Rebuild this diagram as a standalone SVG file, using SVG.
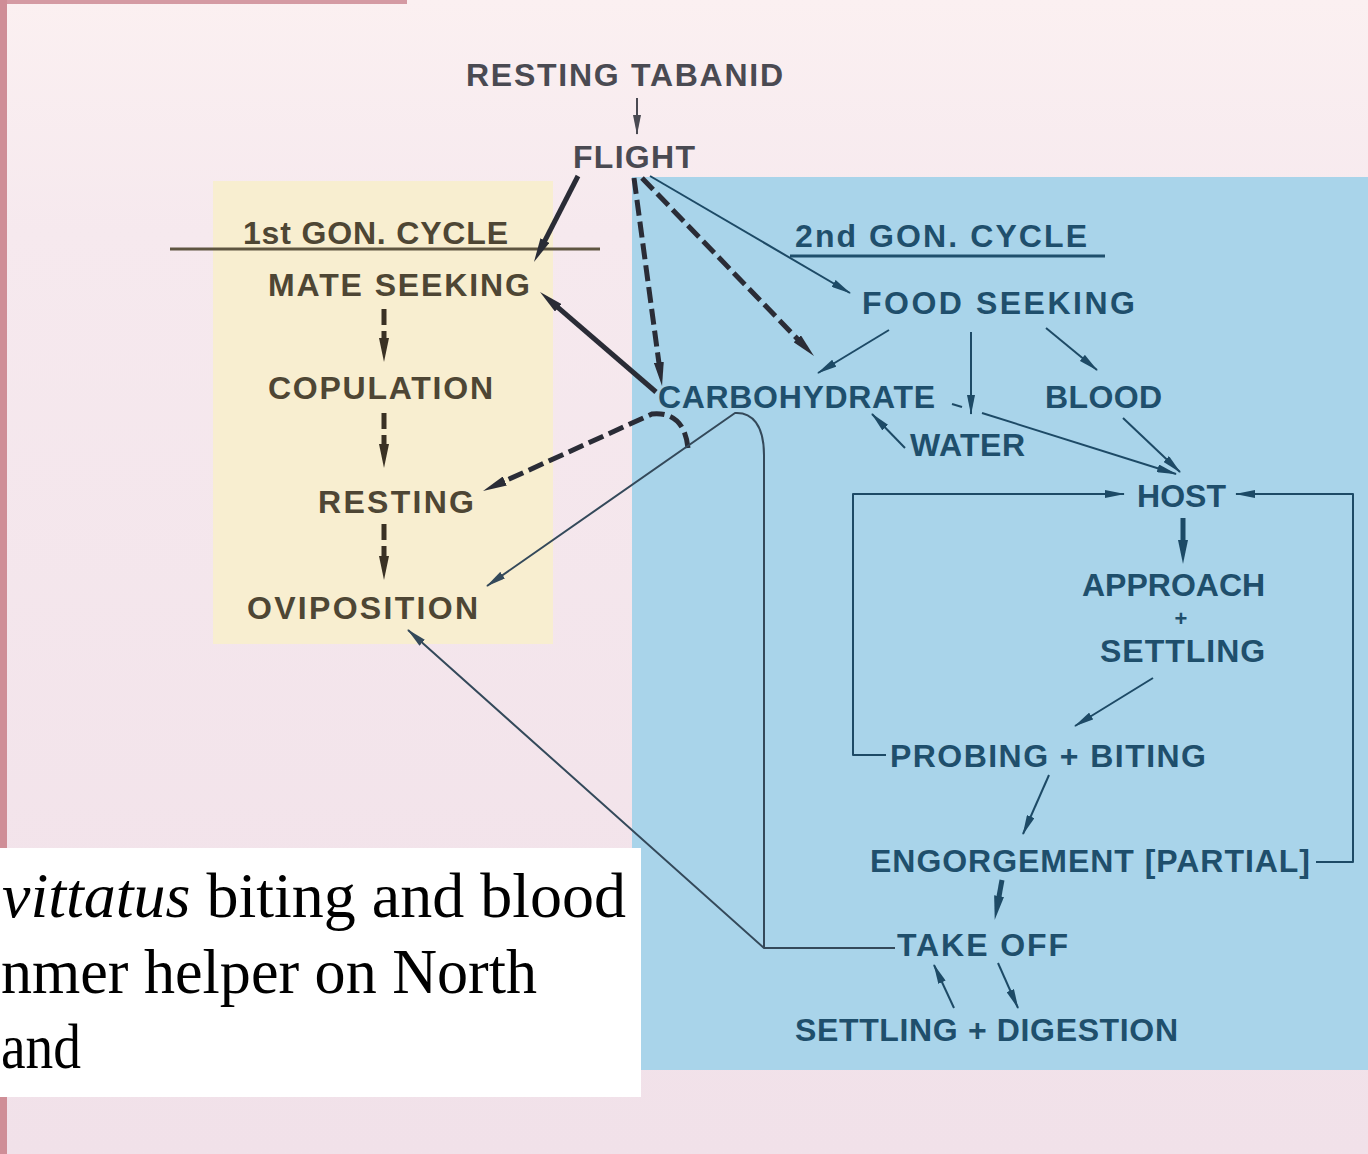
<svg xmlns="http://www.w3.org/2000/svg" width="1368" height="1154" viewBox="0 0 1368 1154">
<style>
.lb{font-family:"Liberation Sans",Arial,sans-serif;font-weight:bold;font-size:32px}
.br{fill:#4e4634}
.gr{fill:#4a4a52}
.bl{fill:#1f4f6c}
.cap{font-family:"Liberation Serif","Times New Roman",serif;font-size:64px;fill:#000}
.thin{fill:none;stroke-width:2;stroke-linejoin:round}
.heavy{fill:none;stroke-width:5}
.dash{stroke-dasharray:16 6}
.cb{stroke:#1d4a66}
.cd{stroke:#2a2c36}
.cbr{stroke:#3a3124}
.cm{stroke:#34495a}
</style>
<defs>
<linearGradient id="bgg" x1="0" y1="0" x2="0" y2="1">
<stop offset="0" stop-color="#fbf0f1"/>
<stop offset="0.2" stop-color="#f6e9ee"/>
<stop offset="1" stop-color="#f1e1e9"/>
</linearGradient>
<marker id="mb" viewBox="0 0 20 8" markerWidth="20" markerHeight="8" refX="19" refY="4" orient="auto" markerUnits="userSpaceOnUse"><path d="M0,0 L20,4 L0,8 Z" fill="#1d4a66"/></marker>
<marker id="mm" viewBox="0 0 20 8" markerWidth="20" markerHeight="8" refX="19" refY="4" orient="auto" markerUnits="userSpaceOnUse"><path d="M0,0 L20,4 L0,8 Z" fill="#34495a"/></marker>
<marker id="mg" viewBox="0 0 20 8" markerWidth="20" markerHeight="8" refX="19" refY="4" orient="auto" markerUnits="userSpaceOnUse"><path d="M0,0 L20,4 L0,8 Z" fill="#4a4a52"/></marker>
<marker id="hd" viewBox="0 0 24 10" markerWidth="24" markerHeight="10" refX="2" refY="5" orient="auto" markerUnits="userSpaceOnUse"><path d="M0,0 L24,5 L0,10 Z" fill="#2a2c36"/></marker>
<marker id="hbr" viewBox="0 0 24 10" markerWidth="24" markerHeight="10" refX="2" refY="5" orient="auto" markerUnits="userSpaceOnUse"><path d="M0,0 L24,5 L0,10 Z" fill="#3a3124"/></marker>
<marker id="hb" viewBox="0 0 24 10" markerWidth="24" markerHeight="10" refX="2" refY="5" orient="auto" markerUnits="userSpaceOnUse"><path d="M0,0 L24,5 L0,10 Z" fill="#1d4a66"/></marker>
</defs>

<g id="background">
<rect x="0" y="0" width="1368" height="1154" fill="url(#bgg)"/>
<rect x="0" y="0" width="407" height="4" fill="#d49aa3"/>
<rect x="0" y="0" width="7" height="1154" fill="#cf8e97"/>
<rect x="213" y="181" width="340" height="463" fill="#f8eed0"/>
<rect x="632" y="177" width="736" height="893" fill="#a9d4ea"/>
<rect x="0" y="848" width="641" height="249" fill="#ffffff"/>
</g>

<g id="caption">
<text class="cap" x="2" y="917"><tspan font-style="italic">vittatus</tspan> biting and blood</text>
<text class="cap" x="1" y="993" textLength="536" lengthAdjust="spacingAndGlyphs">nmer helper on North</text>
<text class="cap" x="1" y="1068" textLength="80" lengthAdjust="spacingAndGlyphs">and</text>
</g>

<g id="underlines">
<line x1="170" y1="249" x2="600" y2="249" stroke="#5e5540" stroke-width="3"/>
<line x1="790" y1="256" x2="1105" y2="256" stroke="#1f4f6c" stroke-width="3"/>
</g>

<g id="connectors">
<line class="thin" stroke="#4a4a52" x1="637" y1="98" x2="637" y2="134" marker-end="url(#mg)"/>
<line class="heavy cd" x1="578" y1="176" x2="544" y2="242.4" marker-end="url(#hd)"/>
<line class="heavy dash cd" x1="634" y1="178" x2="659.1" y2="364.2" marker-end="url(#hd)"/>
<line class="heavy dash cd" x1="642" y1="178" x2="798.7" y2="340.2" marker-end="url(#hd)"/>
<line class="heavy cd" x1="656" y1="392" x2="556.7" y2="306.4" marker-end="url(#hd)"/>
<path class="heavy dash cd" d="M688,448 Q684,411 652,414 L503,481.9" marker-end="url(#hd)"/>
<line class="thin cb" x1="650" y1="176" x2="850" y2="293" marker-end="url(#mb)"/>
<line class="thin cb" x1="889" y1="330" x2="818" y2="373" marker-end="url(#mb)"/>
<line class="thin cb" x1="971" y1="332" x2="971" y2="414" marker-end="url(#mb)"/>
<line class="thin cb" x1="952" y1="404" x2="962" y2="407"/>
<line class="thin cb" x1="982" y1="413" x2="1176" y2="474" marker-end="url(#mb)"/>
<line class="thin cb" x1="1046" y1="328" x2="1097" y2="370" marker-end="url(#mb)"/>
<line class="thin cb" x1="1123" y1="418" x2="1180" y2="472" marker-end="url(#mb)"/>
<line class="thin cb" x1="905" y1="448" x2="872" y2="414" marker-end="url(#mb)"/>
<line class="heavy cb" x1="1183" y1="518" x2="1183" y2="542" marker-end="url(#hb)"/>
<line class="thin cb" x1="1153" y1="678" x2="1075" y2="726" marker-end="url(#mb)"/>
<path class="thin cb" d="M886,755 L853,755 L853,494 L1124,494" marker-end="url(#mb)"/>
<path class="thin cb" d="M1316,862 L1353,862 L1353,494 L1236,494" marker-end="url(#mb)"/>
<line class="thin cb" x1="1049" y1="775" x2="1023" y2="834" marker-end="url(#mb)"/>
<line class="heavy cb" x1="1002" y1="880" x2="998.7" y2="898" marker-end="url(#hb)"/>
<line class="thin cb" x1="954" y1="1008" x2="934" y2="965" marker-end="url(#mb)"/>
<line class="thin cb" x1="998" y1="963" x2="1018" y2="1008" marker-end="url(#mb)"/>
<path class="thin cm" d="M895,948 L764,948 L408,630" marker-end="url(#mm)"/>
<path class="thin cm" d="M764,948 L764,455 C764,425 752,412 735,413 L487,586" marker-end="url(#mm)"/>
<line class="heavy dash cbr" x1="384" y1="309" x2="384" y2="340" marker-end="url(#hbr)"/>
<line class="heavy dash cbr" x1="384" y1="413" x2="384" y2="446" marker-end="url(#hbr)"/>
<line class="heavy dash cbr" x1="384" y1="524" x2="384" y2="558" marker-end="url(#hbr)"/>
</g>

<g id="node-resting-tabanid"><text class="lb gr" x="466" y="86" textLength="317" lengthAdjust="spacing">RESTING  TABANID</text></g>
<g id="node-flight"><text class="lb gr" x="573" y="168" textLength="122" lengthAdjust="spacing">FLIGHT</text></g>
<g id="node-1st-gon-cycle"><text class="lb br" x="243" y="244" textLength="265" lengthAdjust="spacing" font-size="30">1st GON. CYCLE</text></g>
<g id="node-mate-seeking"><text class="lb br" x="268" y="296" textLength="262" lengthAdjust="spacing">MATE  SEEKING</text></g>
<g id="node-copulation"><text class="lb br" x="268" y="399" textLength="225" lengthAdjust="spacing">COPULATION</text></g>
<g id="node-resting"><text class="lb br" x="318" y="513" textLength="156" lengthAdjust="spacing">RESTING</text></g>
<g id="node-oviposition"><text class="lb br" x="247" y="619" textLength="231" lengthAdjust="spacing">OVIPOSITION</text></g>
<g id="node-2nd-gon-cycle"><text class="lb bl" x="795" y="247" textLength="292" lengthAdjust="spacing" font-size="30">2nd  GON. CYCLE</text></g>
<g id="node-food-seeking"><text class="lb bl" x="862" y="314" textLength="273" lengthAdjust="spacing">FOOD  SEEKING</text></g>
<g id="node-carbohydrate"><text class="lb bl" x="658" y="408" textLength="277" lengthAdjust="spacing">CARBOHYDRATE</text></g>
<g id="node-blood"><text class="lb bl" x="1045" y="408" textLength="117" lengthAdjust="spacing">BLOOD</text></g>
<g id="node-water"><text class="lb bl" x="910" y="456" textLength="115" lengthAdjust="spacing">WATER</text></g>
<g id="node-host"><text class="lb bl" x="1137" y="507" textLength="89" lengthAdjust="spacing">HOST</text></g>
<g id="node-approach-settling">
<text class="lb bl"><tspan x="1082" y="596">APPROACH</tspan><tspan x="1181" y="626" text-anchor="middle" style="font-size:22px">+</tspan><tspan x="1100" y="662" letter-spacing="1">SETTLING</tspan></text>
</g>
<g id="node-probing-biting"><text class="lb bl" x="890" y="767" textLength="316" lengthAdjust="spacing">PROBING + BITING</text></g>
<g id="node-engorgement"><text class="lb bl" x="870" y="872" textLength="440" lengthAdjust="spacing">ENGORGEMENT [PARTIAL]</text></g>
<g id="node-take-off"><text class="lb bl" x="897" y="956" textLength="171" lengthAdjust="spacing">TAKE  OFF</text></g>
<g id="node-settling-digestion"><text class="lb bl" x="795" y="1041" textLength="383" lengthAdjust="spacing">SETTLING + DIGESTION</text></g>
</svg>
